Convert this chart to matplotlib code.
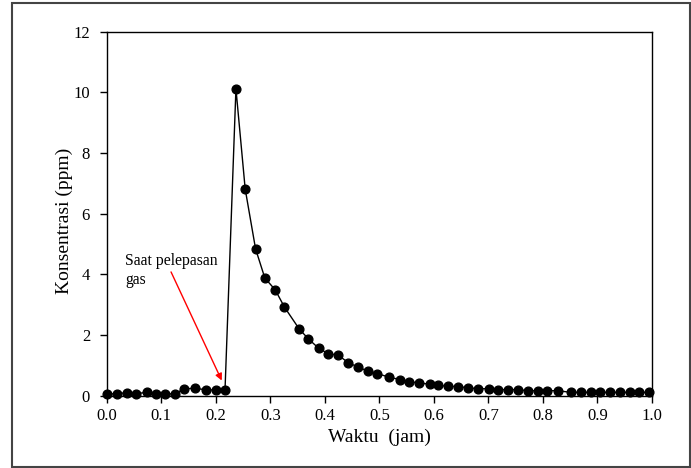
import matplotlib.pyplot as plt
from matplotlib.patches import Rectangle

# Waktu (jam) dan konsentrasi (ppm)
waktu = [0.000, 0.019, 0.037, 0.054, 0.073, 0.090, 0.107, 0.125, 0.142, 0.162,
         0.182, 0.200, 0.217, 0.237, 0.254, 0.273, 0.290, 0.309, 0.326, 0.353,
         0.370, 0.389, 0.406, 0.425, 0.443, 0.460, 0.479, 0.496, 0.518, 0.538,
         0.555, 0.573, 0.592, 0.608, 0.626, 0.644, 0.663, 0.681, 0.701, 0.718,
         0.736, 0.754, 0.772, 0.790, 0.808, 0.827, 0.851, 0.870, 0.888, 0.905,
         0.923, 0.941, 0.959, 0.977, 0.995]
konsentrasi = [0.055, 0.066, 0.10, 0.066, 0.11, 0.066, 0.055, 0.066, 0.22, 0.25,
               0.19, 0.19, 0.20, 10.12, 6.81, 4.84, 3.88, 3.49, 2.92, 2.20,
               1.87, 1.56, 1.39, 1.33, 1.09, 0.95, 0.81, 0.73, 0.61, 0.53,
               0.46, 0.42, 0.38, 0.34, 0.31, 0.30, 0.26, 0.23, 0.23, 0.20,
               0.20, 0.20, 0.165, 0.165, 0.165, 0.165, 0.11, 0.11, 0.11, 0.11,
               0.11, 0.11, 0.11, 0.11, 0.11]

x_ticks = [0.0, 0.1, 0.2, 0.3, 0.4, 0.5, 0.6, 0.7, 0.8, 0.9, 1.0]
y_ticks = [0, 2, 4, 6, 8, 10, 12]

plt.rcParams['font.family'] = ['Liberation Serif', 'DejaVu Serif']

fig = plt.figure(figsize=(6.91, 4.68), dpi=100)
ax = fig.add_axes([0.1544, 0.1545, 0.9436 - 0.1544, 0.9323 - 0.1545])

ax.plot(waktu, konsentrasi, color='black', lw=1, marker='o', ms=6.3,
        markerfacecolor='black', markeredgecolor='black', clip_on=False, zorder=3)

ax.set_xlim(0, 1.0)
ax.set_ylim(0, 12)
ax.set_xticks(x_ticks)
ax.set_xticklabels([f'{v:.1f}' for v in x_ticks])
ax.set_yticks(y_ticks)
ax.tick_params(direction='out', length=5, width=1, labelsize=12, top=False, right=False)
ax.tick_params(axis='y', pad=7)
ax.tick_params(axis='x', pad=4)
ax.set_xlabel('Waktu  (jam)', fontsize=14, labelpad=3)
ax.set_ylabel('Konsentrasi (ppm)', fontsize=14)
ax.yaxis.set_label_coords(-0.062, 0.48)
for spine in ax.spines.values():
    spine.set_linewidth(1)

# panah penanda saat pelepasan gas
ax.annotate('', xy=(0.211, 0.50), xytext=(0.118, 4.08),
            arrowprops=dict(arrowstyle='-|>', color='red', lw=1,
                            mutation_scale=10, shrinkA=0, shrinkB=0))
ax.text(0.034, 4.72, 'Saat pelepasan\ngas', fontsize=11.3, ha='left', va='top',
        linespacing=1.3)

# bingkai luar gambar
fig.patches.append(Rectangle((11.5 / 691, 1.5 / 468), (689.5 - 11.5) / 691, (465 - 1.5) / 468,
                             transform=fig.transFigure, fill=False,
                             edgecolor='#444444', lw=1.5))

fig.savefig('out.png', dpi=100)
